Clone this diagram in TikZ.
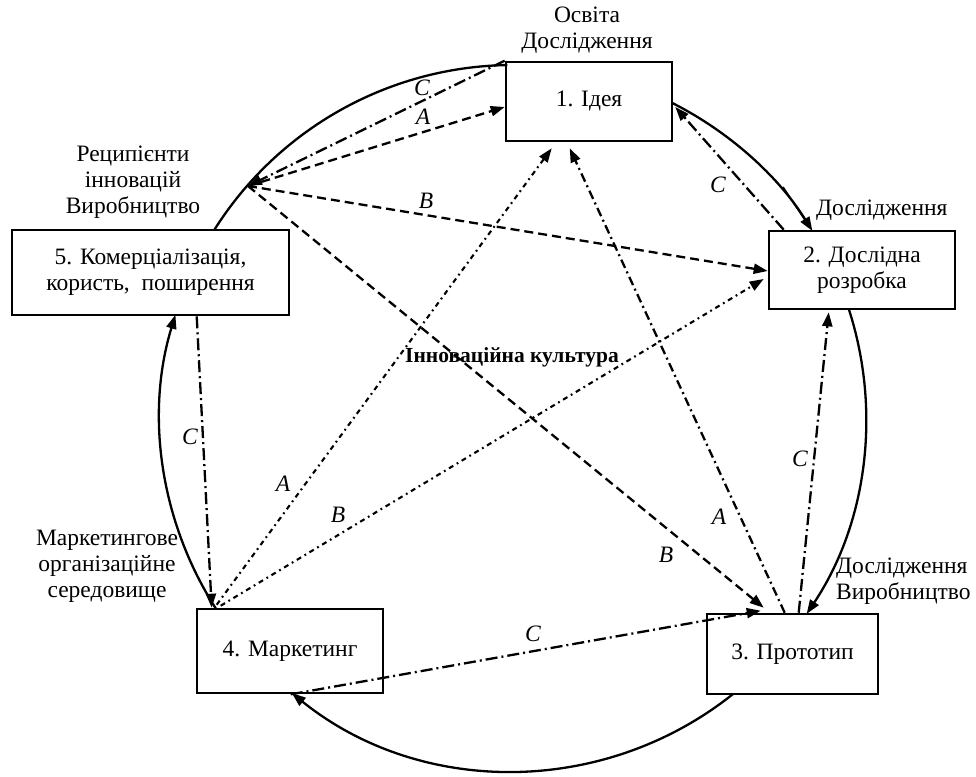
\documentclass[tikz,border=0pt]{standalone}
\usepackage{fontspec}
\setmainfont{Liberation Serif}
\usetikzlibrary{arrows.meta,calc}
\begin{document}
\begin{tikzpicture}[x=1pt,y=1pt,
  box/.style={draw,line width=2.6pt,inner sep=0pt,align=center,font=\fontsize{23.5}{26}\selectfont},
  lbl/.style={inner sep=0pt,font=\fontsize{23.5}{26}\selectfont\itshape},
  txt/.style={inner sep=0pt,align=center,font=\fontsize{23.5}{26}\selectfont},
  tip/.style={-{Triangle[length=14pt,width=10pt]}},
  dsh/.style={line width=2.3pt,dash pattern=on 9pt off 5pt},
  dcl/.style={line width=2.3pt,dash pattern=on 12pt off 4pt on 2pt off 4pt},
  dcm/.style={line width=2.3pt,dash pattern=on 9pt off 4pt on 2pt off 4pt},
  dcs/.style={line width=2.1pt,dash pattern=on 5pt off 4pt on 1.8pt off 4pt},
  arcl/.style={line width=2.3pt}]
\useasboundingbox (0,0) rectangle (976,-776);

% boxes
\node[box,minimum width=166pt,minimum height=79pt] (b1) at (589,-101.5) {1. Ідея};
\node[box,minimum width=186pt,minimum height=78pt] (b2) at (862,-270) {2. Дослідна\\розробка};
\node[box,minimum width=171pt,minimum height=80pt] (b3) at (792.5,-654) {3. Прототип};
\node[box,minimum width=186pt,minimum height=84pt] (b4) at (290,-651) {4. Маркетинг};
\node[box,minimum width=277pt,minimum height=85pt] (b5) at (150.5,-272.5) {5. Комерціалізація,\\користь,\ \ поширення};

% outer cycle
\coordinate (c) at (513,-418);
\coordinate (P) at (248,-186);
\draw[arcl,tip] ($(c)+(63.2:353)$) arc[start angle=63.2,end angle=32,radius=353];
\draw[line width=1.6pt] (783,-187) -- (809,-226);
\draw[arcl,tip] ($(c)+(18:353)$) arc[start angle=18,end angle=-33.7,radius=353];
\draw[arcl,tip] ($(c)+(-51.4:353)$) arc[start angle=-51.4,end angle=-128.8,radius=353];
\draw[arcl,tip] ($(c)+(212.8:353)$) arc[start angle=212.8,end angle=163,radius=353];
\draw[arcl] ($(c)+(147.8:353)$) arc[start angle=147.8,end angle=90.9,radius=353];

% connectors
\draw[dcl,tip] (b1.north west) -- (P);
\draw[dsh,tip] (P) -- ($(b1.west)+(0,-5.5)$);
\draw[dsh,tip] (P) -- ($(b2.west)+(0,-1)$);
\draw[dsh,tip] (P) -- ($(b3.north west)+(58,5)$);
\draw[dcl,tip] ($(b2.north west)+(16,0)$) -- ($(b1.east)+(2,-5.5)$);
\draw[dcl,tip] ($(b3.north west)+(93,0)$) -- ($(b2.south west)+(61,-2)$);
\draw[dcm,tip] ($(b3.north west)+(79,0)$) -- ($(b1.south west)+(65,-6)$);
\draw[dcs,tip] ($(b4.north west)+(21,3)$) -- ($(b1.south west)+(47,-6)$);
\draw[dcs,tip] ($(b4.north west)+(25,2)$) -- ($(b2.west)+(-4,-9)$);
\draw[dcl,tip] ($(b5.south west)+(186,0)$) -- ($(b4.north west)+(16,0)$);
\draw[dcl,tip] ($(b4.south west)+(95,0)$) -- ($(b3.north west)+(55,2)$);

% connector labels
\node[lbl] (l1) at (422,-88) {C};
\node[lbl] (l2) at (423,-117) {A};
\node[lbl] (l3) at (426,-201) {B};
\node[lbl] (l4) at (718,-185) {C};
\node[lbl] (l5) at (800,-459) {C};
\node[lbl] (l6) at (719,-517) {A};
\node[lbl] (l7) at (666,-555) {B};
\node[lbl] (l8) at (283,-484) {A};
\node[lbl] (l9) at (338,-515) {B};
\node[lbl] (l10) at (190,-437) {C};
\node[lbl] (l11) at (533,-634) {C};

% outer texts
\node[txt] (t1) at (587,-30) {Освіта\\Дослідження};
\node[txt,anchor=west] (t2) at (816,-210) {Дослідження};
\node[txt,align=left,anchor=west] (t3) at (836,-581) {Дослідження\\Виробництво};
\node[txt] (t4) at (107,-566) {Маркетингове\\організаційне\\середовище};
\node[txt] (t5) at (133,-182) {Реципієнти\\інновацій\\Виробництво};
\node[inner sep=0pt,font=\fontsize{21.5}{26}\selectfont\bfseries] (ic) at (512,-357) {Інноваційна культура};
\end{tikzpicture}
\end{document}
